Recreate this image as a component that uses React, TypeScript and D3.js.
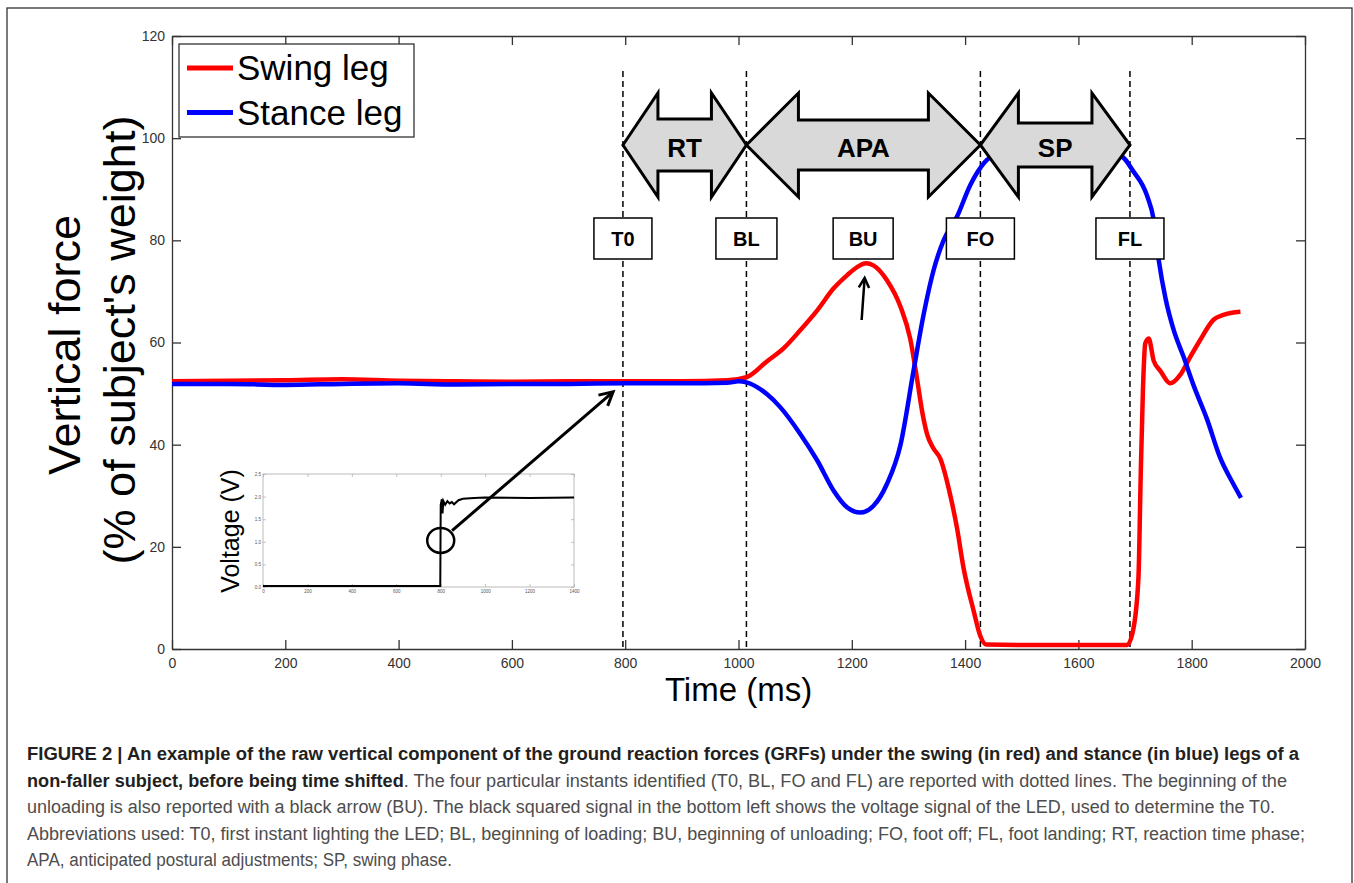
import { useEffect, useRef } from 'react'
import * as d3 from 'd3'

// swing leg (red) – time in ms, force in % of body weight
const swingTime = [0, 100, 200, 300, 400, 500, 600, 700, 800, 900, 980, 1014, 1050, 1080, 1109, 1139, 1168, 1192, 1210, 1225, 1238, 1262, 1286, 1303, 1315, 1325, 1333, 1344, 1356, 1374, 1386, 1397, 1415, 1427, 1437, 1500, 1600, 1686, 1697, 1706, 1710, 1714, 1718, 1724, 1733, 1745, 1762, 1780, 1797, 1815, 1839, 1856, 1886]
const swingForce = [52.4, 52.5, 52.6, 52.8, 52.5, 52.4, 52.3, 52.4, 52.4, 52.4, 52.6, 53.2, 56.3, 58.9, 62.4, 66.3, 70.6, 73.2, 74.8, 75.5, 75.1, 72.2, 67, 60.8, 53, 46, 42, 39.3, 37.3, 30, 23.5, 16, 7.5, 2.5, 0.9, 0.8, 0.8, 0.8, 3.9, 14, 34, 51, 59.8, 60.8, 56.4, 54.4, 52, 53.7, 57.1, 60.5, 64.5, 65.4, 66]

// stance leg (blue)
const stanceTime = [0, 100, 200, 300, 400, 500, 600, 700, 800, 900, 980, 1000, 1014, 1050, 1074, 1109, 1139, 1168, 1192, 1215, 1238, 1262, 1286, 1309, 1327, 1344, 1362, 1386, 1409, 1427, 1445, 1500, 1600, 1674, 1697, 1721, 1733, 1742, 1754, 1768, 1786, 1803, 1827, 1850, 1874, 1887]
const stanceForce = [51.9, 51.9, 51.7, 51.9, 52, 51.8, 51.9, 51.9, 52, 52, 52.1, 52.4, 52.2, 49.9, 47.3, 42.1, 36.9, 31, 27.7, 26.7, 28, 32.3, 40, 54.5, 65.6, 74, 80, 84.7, 90.8, 94.2, 96.2, 96.8, 97, 96.5, 93.5, 88.8, 84, 76, 68.5, 62.5, 57.1, 51.7, 45, 37.5, 32.2, 29.6]

// particular instants (ms)
const eventNames = ['T0', 'BL', 'BU', 'FO', 'FL']
const eventTimes = [796, 1014, 1220, 1427, 1691]
const dottedEvents = ['T0', 'BL', 'FO', 'FL']

// phases between instants
const phaseNames = ['RT', 'APA', 'SP']
const phaseFrom = ['T0', 'BL', 'FO']
const phaseTo = ['BL', 'FO', 'FL']

// LED voltage inset
const ledTime = [0, 200, 400, 600, 798, 800, 805, 808, 812, 820, 830, 840, 850, 860, 880, 900, 950, 1000, 1200, 1400]
const ledVoltage = [0.02, 0.02, 0.02, 0.02, 0.02, 1.82, 1.94, 1.63, 1.9, 1.82, 1.9, 1.85, 1.88, 1.83, 1.92, 1.95, 1.97, 1.98, 1.97, 1.98]

const xTicks = [0, 200, 400, 600, 800, 1000, 1200, 1400, 1600, 1800, 2000]
const yTicks = [0, 20, 40, 60, 80, 100, 120]
const insetXTicks = [0, 200, 400, 600, 800, 1000, 1200, 1400]
const insetYTicks = [0, 0.5, 1, 1.5, 2, 2.5]

const legendLabels = ['Swing leg', 'Stance leg']

const captionLines: { bold: string; normal: string }[] = [
  { bold: 'FIGURE 2 | An example of the raw vertical component of the ground reaction forces (GRFs) under the swing (in red) and stance (in blue) legs of a', normal: '' },
  { bold: 'non-faller subject, before being time shifted', normal: '. The four particular instants identified (T0, BL, FO and FL) are reported with dotted lines. The beginning of the' },
  { bold: '', normal: 'unloading is also reported with a black arrow (BU). The black squared signal in the bottom left shows the voltage signal of the LED, used to determine the T0.' },
  { bold: '', normal: 'Abbreviations used: T0, first instant lighting the LED; BL, beginning of loading; BU, beginning of unloading; FO, foot off; FL, foot landing; RT, reaction time phase;' },
  { bold: '', normal: 'APA, anticipated postural adjustments; SP, swing phase.' },
]
// right end of each caption line
const captionEnds = [1299, 1287, 1275, 1305, 452]

const FONT = '"Liberation Sans", Arial, Helvetica, sans-serif'

export default function App() {
  const ref = useRef<SVGSVGElement>(null)

  useEffect(() => {
    if (!ref.current) return
    const svg = d3.select(ref.current)
    svg.selectAll('*').remove()

    const x = d3.scaleLinear().domain([0, 2000]).range([172, 1305])
    const y = d3.scaleLinear().domain([0, 120]).range([649, 36])
    const at = (name: string) => eventTimes[eventNames.indexOf(name)]

    // outer figure frame
    svg.append('rect')
      .attr('x', 7).attr('y', 8).attr('width', 1345).attr('height', 895)
      .attr('fill', 'none').attr('stroke', '#333').attr('stroke-width', 1.3)

    // axes box with inward ticks
    const axisStyle = (g: d3.Selection<SVGGElement, unknown, null, undefined>) => {
      g.select('.domain').attr('stroke', '#333').attr('stroke-width', 1.3)
      g.selectAll('.tick line').attr('stroke', '#333').attr('stroke-width', 1.3)
      g.selectAll('.tick text').attr('fill', '#333').attr('font-size', 14).attr('font-family', FONT)
    }
    const fmt = d3.format('d')
    svg.append('g').attr('transform', 'translate(0,649)')
      .call(d3.axisBottom(x).tickValues(xTicks).tickFormat(d => fmt(d as number)).tickSizeInner(-9).tickSizeOuter(0).tickPadding(9))
      .call(axisStyle)
    svg.append('g').attr('transform', 'translate(0,36)')
      .call(d3.axisTop(x).tickValues(xTicks).tickSizeInner(-9).tickSizeOuter(0).tickFormat(() => ''))
      .call(axisStyle)
    svg.append('g').attr('transform', 'translate(172,0)')
      .call(d3.axisLeft(y).tickValues(yTicks).tickFormat(d => fmt(d as number)).tickSizeInner(-9).tickSizeOuter(0).tickPadding(7))
      .call(axisStyle)
    svg.append('g').attr('transform', 'translate(1305,0)')
      .call(d3.axisRight(y).tickValues(yTicks).tickSizeInner(-9).tickSizeOuter(0).tickFormat(() => ''))
      .call(axisStyle)

    // axis titles
    svg.append('text')
      .attr('transform', 'translate(80,345) rotate(-90)')
      .attr('text-anchor', 'middle').attr('font-family', FONT).attr('font-size', 45)
      .text('Vertical force')
    svg.append('text')
      .attr('transform', 'translate(135,340) rotate(-90)')
      .attr('text-anchor', 'middle').attr('font-family', FONT).attr('font-size', 45)
      .text("(% of subject's weight)")
    svg.append('text')
      .attr('x', x(1000)).attr('y', 701)
      .attr('text-anchor', 'middle').attr('font-family', FONT).attr('font-size', 33)
      .text('Time (ms)')

    // dotted lines at the instants
    svg.append('g').selectAll('line')
      .data(dottedEvents)
      .join('line')
      .attr('x1', d => x(at(d))).attr('x2', d => x(at(d)))
      .attr('y1', 71).attr('y2', 649)
      .attr('stroke', '#000').attr('stroke-width', 1.5).attr('stroke-dasharray', '6,4')

    // inset: LED voltage
    const ix = d3.scaleLinear().domain([0, 1400]).range([263, 574])
    const iy = d3.scaleLinear().domain([0, 2.5]).range([587, 474])
    const inset = svg.append('g')
    inset.append('rect')
      .attr('x', 263).attr('y', 474).attr('width', 311).attr('height', 113)
      .attr('fill', 'white').attr('stroke', '#aaa').attr('stroke-width', 0.8)
    const insetStyle = (g: d3.Selection<SVGGElement, unknown, null, undefined>) => {
      g.select('.domain').remove()
      g.selectAll('.tick line').attr('stroke', '#aaa').attr('stroke-width', 0.7)
      g.selectAll('.tick text').attr('fill', '#555').attr('font-size', 4.5).attr('font-family', FONT)
    }
    inset.append('g').attr('transform', 'translate(0,587)')
      .call(d3.axisBottom(ix).tickValues(insetXTicks).tickFormat(d => fmt(d as number)).tickSizeInner(-3).tickSizeOuter(0).tickPadding(3))
      .call(insetStyle)
    inset.append('g').attr('transform', 'translate(263,0)')
      .call(d3.axisLeft(iy).tickValues(insetYTicks).tickSizeInner(-3).tickSizeOuter(0).tickPadding(2))
      .call(insetStyle)
    inset.append('g').attr('transform', 'translate(574,0)')
      .call(d3.axisRight(iy).tickValues(insetYTicks).tickSizeInner(-3).tickSizeOuter(0).tickFormat(() => ''))
      .call(insetStyle)
    inset.append('g').attr('transform', 'translate(0,474)')
      .call(d3.axisTop(ix).tickValues(insetXTicks).tickSizeInner(-3).tickSizeOuter(0).tickFormat(() => ''))
      .call(insetStyle)
    const ledLine = d3.line<number>().x((_, i) => ix(ledTime[i])).y(d => iy(d))
    inset.append('path')
      .attr('d', ledLine(ledVoltage))
      .attr('fill', 'none').attr('stroke', '#000').attr('stroke-width', 2)
    inset.append('text')
      .attr('transform', 'translate(239,531) rotate(-90)')
      .attr('text-anchor', 'middle').attr('font-family', FONT).attr('font-size', 25)
      .text('Voltage (V)')
    const cx = ix(800), cy = iy(1.03)
    inset.append('ellipse')
      .attr('cx', cx).attr('cy', cy).attr('rx', 13.5).attr('ry', 12.5)
      .attr('fill', 'none').attr('stroke', '#000').attr('stroke-width', 2.5)

    // arrow helper: straight shaft with open head at (x1, y1)
    const drawArrow = (x0: number, y0: number, x1: number, y1: number, len: number, w: number) => {
      const a = Math.atan2(y0 - y1, x0 - x1)
      svg.append('line').attr('x1', x0).attr('y1', y0).attr('x2', x1).attr('y2', y1)
        .attr('stroke', '#000').attr('stroke-width', w)
      svg.append('path')
        .attr('d', `M${x1 + len * Math.cos(a + 0.49)},${y1 + len * Math.sin(a + 0.49)}L${x1},${y1}L${x1 + len * Math.cos(a - 0.49)},${y1 + len * Math.sin(a - 0.49)}`)
        .attr('fill', 'none').attr('stroke', '#000').attr('stroke-width', w).attr('stroke-linejoin', 'miter')
    }
    // from LED onset to T0 on the force traces
    {
      const tx = x(at('T0')), ty = y(52)
      const dx = tx - cx, dy = ty - cy, L = Math.hypot(dx, dy)
      drawArrow(cx + 15 * dx / L, cy + 15 * dy / L, tx - 13 * dx / L, ty - 13 * dy / L, 15, 3)
    }

    // force traces
    const line = d3.line<number>().curve(d3.curveMonotoneX)
    svg.append('path')
      .attr('d', line.x((_, i) => x(swingTime[i])).y(d => y(d))(swingForce))
      .attr('fill', 'none').attr('stroke', '#ff0000').attr('stroke-width', 4.5).attr('stroke-linejoin', 'round')
    svg.append('path')
      .attr('d', line.x((_, i) => x(stanceTime[i])).y(d => y(d))(stanceForce))
      .attr('fill', 'none').attr('stroke', '#0000ff').attr('stroke-width', 4.5).attr('stroke-linejoin', 'round')

    // legend
    const lg = svg.append('g')
    lg.append('rect').attr('x', 179).attr('y', 44).attr('width', 235).attr('height', 93)
      .attr('fill', 'white').attr('stroke', '#333').attr('stroke-width', 1.3)
    const colors = ['#ff0000', '#0000ff']
    legendLabels.forEach((lab, i) => {
      const ly = 68 + i * 44.5
      lg.append('line').attr('x1', 187).attr('x2', 233).attr('y1', ly).attr('y2', ly)
        .attr('stroke', colors[i]).attr('stroke-width', 5)
      lg.append('text').attr('x', 237).attr('y', ly + 12)
        .attr('font-family', FONT).attr('font-size', 35).text(lab)
    })

    // phase double arrows
    const yc = 145, headHalf = 52
    const shaftHalf: Record<string, number> = { RT: 26, APA: 25, SP: 22 }
    const headLen: Record<string, number> = { RT: 35, APA: 52, SP: 38 }
    phaseNames.forEach((p, i) => {
      const x0 = x(at(phaseFrom[i])), x1 = x(at(phaseTo[i]))
      const h = headLen[p], s = shaftHalf[p]
      const pts: [number, number][] = [
        [x0, yc], [x0 + h, yc - headHalf], [x0 + h, yc - s], [x1 - h, yc - s], [x1 - h, yc - headHalf],
        [x1, yc], [x1 - h, yc + headHalf], [x1 - h, yc + s], [x0 + h, yc + s], [x0 + h, yc + headHalf],
      ]
      svg.append('path')
        .attr('d', 'M' + pts.map(q => q.join(',')).join('L') + 'Z')
        .attr('fill', '#d9d9d9').attr('stroke', '#000').attr('stroke-width', 3).attr('stroke-linejoin', 'miter')
      svg.append('text')
        .attr('x', (x0 + x1) / 2).attr('y', yc + 12)
        .attr('text-anchor', 'middle').attr('font-family', FONT).attr('font-weight', 'bold').attr('font-size', 26)
        .text(p)
    })

    // event label boxes
    const boxW: Record<string, number> = { T0: 58, BL: 61, BU: 60, FO: 68, FL: 68 }
    eventNames.forEach((e, i) => {
      const ex = x(eventTimes[i])
      svg.append('rect')
        .attr('x', ex - boxW[e] / 2).attr('y', 218).attr('width', boxW[e]).attr('height', 41)
        .attr('fill', 'white').attr('stroke', '#000').attr('stroke-width', 1.5)
      svg.append('text')
        .attr('x', ex).attr('y', 246)
        .attr('text-anchor', 'middle').attr('font-family', FONT).attr('font-weight', 'bold').attr('font-size', 20)
        .text(e)
    })

    // BU arrow
    {
      const bx = x(at('BU'))
      drawArrow(bx - 1.5, 320, bx + 1.5, 278, 11, 2.5)
    }

    // caption
    const capX = 27
    captionLines.forEach((c, i) => {
      const t = svg.append('text')
        .attr('x', capX).attr('y', 760 + i * 26.5)
        .attr('font-family', FONT).attr('font-size', 18)
        .attr('textLength', captionEnds[i] - capX).attr('lengthAdjust', 'spacingAndGlyphs')
      if (c.bold) t.append('tspan').attr('font-weight', 'bold').attr('fill', '#231f20').text(c.bold)
      if (c.normal) t.append('tspan').attr('fill', '#4d4d4d').text(c.normal)
    })
  }, [])

  return (
    <svg
      ref={ref}
      width={1354}
      height={883}
      style={{ position: 'absolute', left: 0, top: 0, background: 'white' }}
    />
  )
}
